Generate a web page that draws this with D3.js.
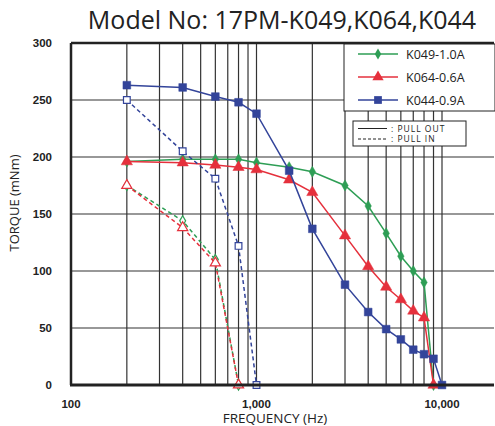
<!DOCTYPE html>
<html>
<head>
<meta charset="utf-8">
<script src="https://cdn.jsdelivr.net/npm/d3@7"></script>
<style>
  body { margin: 0; background: #fff; }
  svg { display: block; font-family: "Open Sans", "DejaVu Sans", sans-serif; }
</style>
</head>
<body>
<svg id="chart"></svg>
<script>
// pull out curves (solid)
const freqOut = [200, 400, 600, 800, 1000, 1500, 2000, 3000, 4000, 5000, 6000, 7000, 8000, 9000];
const freqOut044 = [200, 400, 600, 800, 1000, 1500, 2000, 3000, 4000, 5000, 6000, 7000, 8000, 9000, 10000];
const k049Out = [196, 198, 198, 198, 195, 191, 187, 175, 157, 133, 113, 100, 90, 0];
const k064Out = [196, 195, 193, 191, 189, 180, 169, 131, 104, 86, 75, 65, 59, 0];
const k044Out = [263, 261, 253, 248, 238, 188, 137, 88, 64, 49, 40, 31, 27, 23, 0];

// pull in curves (dashed)
const freqIn = [200, 400, 600, 800];
const freqIn044 = [200, 400, 600, 800, 1000];
const k049In = [175, 144, 110, 0];
const k064In = [175, 138, 107, 0];
const k044In = [250, 205, 181, 122, 0];

const yTicks = [0, 50, 100, 150, 200, 250, 300];
const xTickLabels = [[100, "100"], [1000, "1,000"], [10000, "10,000"]];
const legendNames = ["K049-1.0A", "K064-0.6A", "K044-0.9A"];

const W = 495, H = 426;
const plot = {left: 71, top: 43, bottom: 385, right: 494};

const svg = d3.select("#chart").attr("width", W).attr("height", H);

const x = d3.scaleLog().domain([100, 10000]).range([plot.left, 442]);
const y = d3.scaleLinear().domain([0, 300]).range([plot.bottom, plot.top]);

// grid lines
const gridX = [];
[100, 1000].forEach(b => { for (let i = 2; i <= 10; i++) gridX.push(b * i); });
svg.append("g").selectAll("line").data(gridX).join("line")
    .attr("x1", d => x(d)).attr("x2", d => x(d))
    .attr("y1", plot.top).attr("y2", plot.bottom)
    .attr("stroke", "#333").attr("stroke-width", 1.2);
svg.append("g").selectAll("line").data(yTicks.slice(1, -1)).join("line")
    .attr("x1", plot.left).attr("x2", plot.right)
    .attr("y1", d => y(d)).attr("y2", d => y(d))
    .attr("stroke", "#333").attr("stroke-width", 1.2);

// frame
svg.append("line").attr("x1", plot.left).attr("x2", plot.right).attr("y1", plot.top).attr("y2", plot.top)
    .attr("stroke", "#222").attr("stroke-width", 2.5);
svg.append("line").attr("x1", plot.left).attr("x2", plot.left).attr("y1", plot.top).attr("y2", plot.bottom)
    .attr("stroke", "#222").attr("stroke-width", 2.5);

// tick labels
svg.append("g").selectAll("text").data(yTicks).join("text")
    .attr("x", 52).attr("y", d => y(d) + 4)
    .attr("text-anchor", "end")
    .style("font-family", "'Liberation Sans', Arial, sans-serif")
    .style("font-weight", "bold").style("font-size", "11.5px").attr("fill", "#222")
    .text(d => d);
svg.append("g").selectAll("text").data(xTickLabels).join("text")
    .attr("x", d => x(d[0])).attr("y", 408)
    .attr("text-anchor", "middle")
    .style("font-family", "'Liberation Sans', Arial, sans-serif")
    .style("font-weight", "bold").style("font-size", "11.5px").attr("fill", "#222")
    .text(d => d[1]);

// titles
svg.append("text").attr("x", 282).attr("y", 29).attr("text-anchor", "middle")
    .style("font-size", "25px").attr("fill", "#222")
    .text("Model No: 17PM-K049,K064,K044");
svg.append("text").attr("x", 275).attr("y", 423).attr("text-anchor", "middle")
    .style("font-size", "13.5px").attr("fill", "#222")
    .text("FREQUENCY (Hz)");
svg.append("text").attr("transform", "translate(19,203) rotate(-90)")
    .attr("text-anchor", "middle")
    .style("font-size", "13px").attr("fill", "#222")
    .text("TORQUE (mNm)");

const green = "#2e9e55", red = "#e5303c", blue = "#33449a";

const series = [
  {f: freqOut, v: k049Out, c: green, m: d3.symbolDiamond, s: 36, dash: null, fill: true},
  {f: freqOut, v: k064Out, c: red, m: d3.symbolTriangle, s: 55, dash: null, fill: true},
  {f: freqOut044, v: k044Out, c: blue, m: d3.symbolSquare, s: 60, dash: null, fill: true},
  {f: freqIn, v: k049In, c: green, m: d3.symbolDiamond, s: 30, dash: "4,3", fill: false},
  {f: freqIn, v: k064In, c: red, m: d3.symbolTriangle, s: 45, dash: "4,3", fill: false},
  {f: freqIn044, v: k044In, c: blue, m: d3.symbolSquare, s: 45, dash: "4,3", fill: false}
];

const line = d3.line().x(d => x(d[0])).y(d => y(d[1]));

series.forEach(s => {
  const pts = s.f.map((f, i) => [f, s.v[i]]);
  const g = svg.append("g");
  g.append("path").datum(pts).attr("d", line)
      .attr("fill", "none").attr("stroke", s.c).attr("stroke-width", 1.5)
      .attr("stroke-dasharray", s.dash);
  g.selectAll("path.pt").data(pts).join("path").attr("class", "pt")
      .attr("transform", d => `translate(${x(d[0])},${y(d[1])})`)
      .attr("d", d3.symbol().type(s.m).size(s.s))
      .attr("fill", s.fill ? s.c : "#fff")
      .attr("stroke", s.c).attr("stroke-width", s.fill ? 0.5 : 1.2);
});

// bottom axis line
svg.append("line").attr("x1", plot.left - 1).attr("x2", plot.right).attr("y1", plot.bottom).attr("y2", plot.bottom)
    .attr("stroke", "#222").attr("stroke-width", 3);

// legend
const leg = svg.append("g");
leg.append("rect").attr("x", 344).attr("y", 44).attr("width", 151).attr("height", 67)
    .attr("fill", "#fff").attr("stroke", "#222").attr("stroke-width", 1);
series.slice(0, 3).forEach((s, i) => {
  const ly = 54 + i * 23;
  leg.append("line").attr("x1", 358).attr("x2", 398).attr("y1", ly).attr("y2", ly)
      .attr("stroke", s.c).attr("stroke-width", 1.5);
  leg.append("path").attr("transform", `translate(378,${ly})`)
      .attr("d", d3.symbol().type(s.m).size(s.s)).attr("fill", s.c);
  leg.append("text").attr("x", 406).attr("y", ly + 4.5)
      .style("font-size", "12.5px").attr("fill", "#222").text(legendNames[i]);
});

leg.append("rect").attr("x", 353).attr("y", 121).attr("width", 113).attr("height", 25)
    .attr("fill", "#fff").attr("stroke", "#222").attr("stroke-width", 1);
[["", ": PULL OUT"], ["3,2", ": PULL IN"]].forEach((d, i) => {
  const ly = 128.5 + i * 10.5;
  leg.append("line").attr("x1", 358).attr("x2", 387).attr("y1", ly).attr("y2", ly)
      .attr("stroke", "#222").attr("stroke-width", 1).attr("stroke-dasharray", d[0] || null);
  leg.append("text").attr("x", 391).attr("y", ly + 3)
      .style("font-size", "8.5px").style("letter-spacing", "1px").attr("fill", "#222").text(d[1]);
});
</script>
</body>
</html>
